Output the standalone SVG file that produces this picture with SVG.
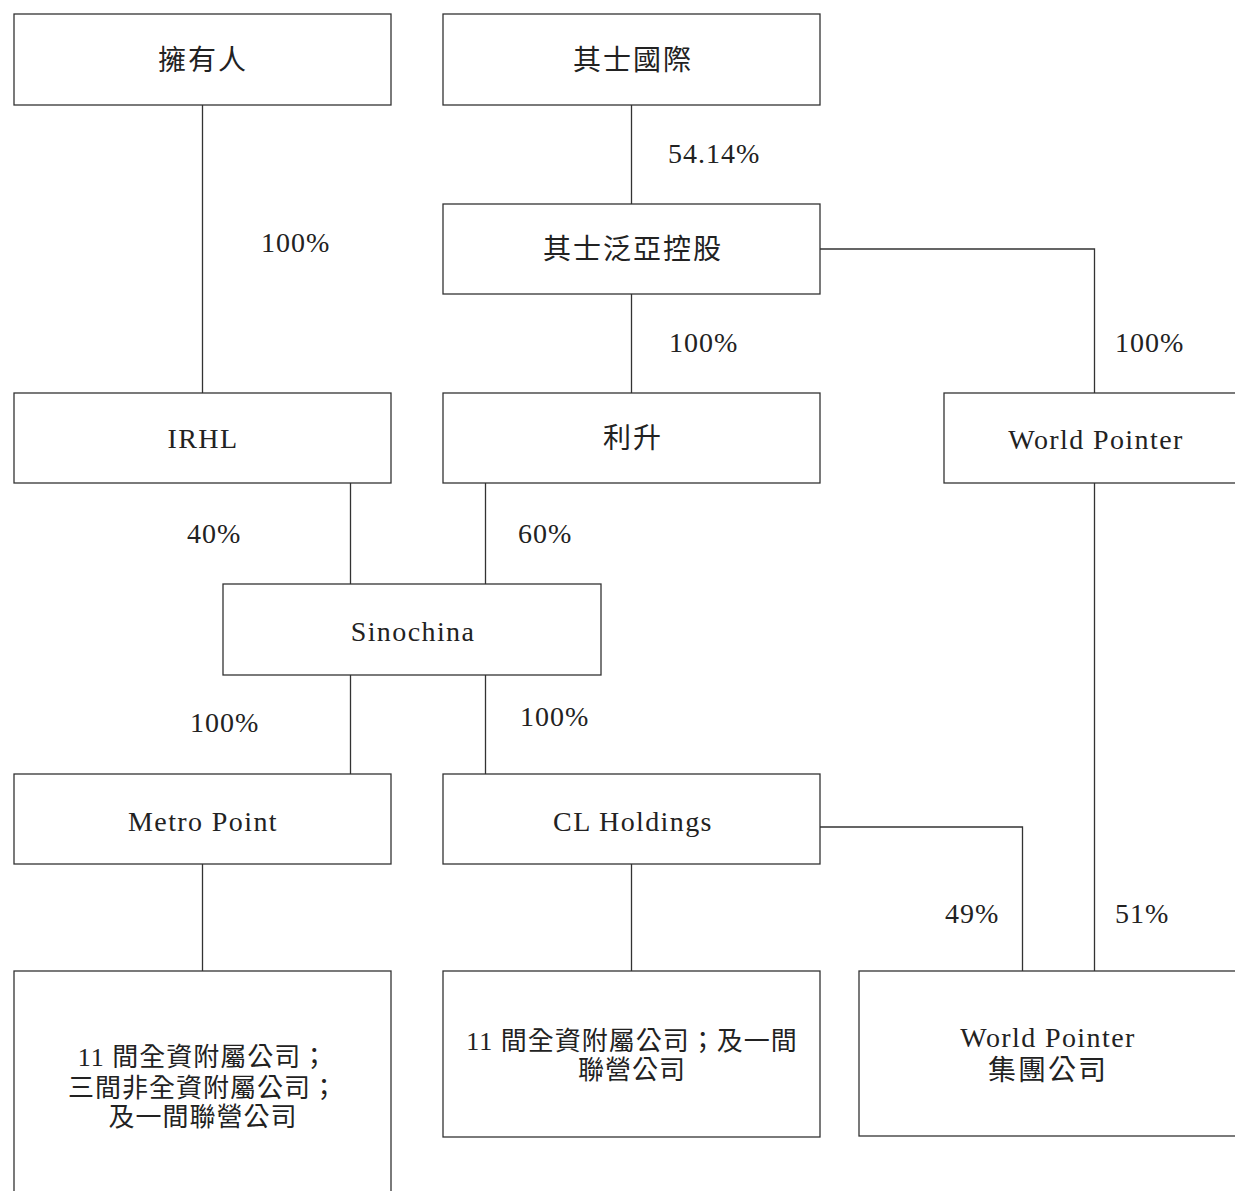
<svg xmlns="http://www.w3.org/2000/svg" width="1235" height="1191" viewBox="0 0 1235 1191">
<style>
.box{fill:#fff;stroke:#333;stroke-width:1.3}
.ln{fill:none;stroke:#333;stroke-width:1.3}
text{font-family:"Liberation Serif","Noto Sans CJK TC",serif;font-size:28px;fill:#222;text-anchor:middle}
.lat{letter-spacing:1.4px}
.cjk{letter-spacing:2px}
.body{font-size:26px;letter-spacing:1px}
.pct{text-anchor:start;letter-spacing:1px}
</style>
<rect width="1235" height="1191" fill="#fff"/>
<g id="connectors">
<path class="ln" d="M202.5 105V393"/>
<path class="ln" d="M631.5 105V204"/>
<path class="ln" d="M631.5 294V393"/>
<path class="ln" d="M820 249H1094.5V393"/>
<path class="ln" d="M350.5 483V584"/>
<path class="ln" d="M485.5 483V584"/>
<path class="ln" d="M350.5 675V774"/>
<path class="ln" d="M485.5 675V774"/>
<path class="ln" d="M202.5 864V971"/>
<path class="ln" d="M631.5 864V971"/>
<path class="ln" d="M820 827H1022.5V971"/>
<path class="ln" d="M1094.5 483V971"/>
<text class="pct" x="261" y="252">100%</text>
<text class="pct" x="668" y="163">54.14%</text>
<text class="pct" x="669" y="352">100%</text>
<text class="pct" x="1115" y="352">100%</text>
<text class="pct" x="187" y="543">40%</text>
<text class="pct" x="518" y="543">60%</text>
<text class="pct" x="190" y="732">100%</text>
<text class="pct" x="520" y="726">100%</text>
<text class="pct" x="945" y="923">49%</text>
<text class="pct" x="1115" y="923">51%</text>
</g>
<g id="n_owner"><rect class="box" x="14" y="14" width="377" height="91"/><text class="cjk" x="203" y="70">擁有人</text></g>
<g id="n_chevalier_intl"><rect class="box" x="443" y="14" width="377" height="91"/><text class="cjk" x="633" y="70">其士國際</text></g>
<g id="n_chevalier_pacific"><rect class="box" x="443" y="204" width="377" height="90"/><text class="cjk" x="633" y="259">其士泛亞控股</text></g>
<g id="n_irhl"><rect class="box" x="14" y="393" width="377" height="90"/><text class="lat" x="203" y="448">IRHL</text></g>
<g id="n_lisheng"><rect class="box" x="443" y="393" width="377" height="90"/><text class="cjk" x="633" y="448">利升</text></g>
<g id="n_world_pointer"><rect class="box" x="944" y="393" width="300" height="90"/><text class="lat" x="1096" y="449">World Pointer</text></g>
<g id="n_sinochina"><rect class="box" x="223" y="584" width="378" height="91"/><text class="lat" x="413" y="641">Sinochina</text></g>
<g id="n_metro_point"><rect class="box" x="14" y="774" width="377" height="90"/><text class="lat" x="203" y="831">Metro Point</text></g>
<g id="n_cl_holdings"><rect class="box" x="443" y="774" width="377" height="90"/><text class="lat" x="633" y="831">CL Holdings</text></g>
<g id="n_metro_subs"><rect class="box" x="14" y="971" width="377" height="230"/>
<text class="body" x="203" y="1066">11 間全資附屬公司；</text>
<text class="body" x="203" y="1097">三間非全資附屬公司；</text>
<text class="body" x="203" y="1126">及一間聯營公司</text></g>
<g id="n_cl_subs"><rect class="box" x="443" y="971" width="377" height="166"/>
<text class="body" x="632" y="1050">11 間全資附屬公司；及一間</text>
<text class="body" x="632" y="1079">聯營公司</text></g>
<g id="n_wp_group"><rect class="box" x="859" y="971" width="385" height="165"/>
<text class="lat" x="1048" y="1047">World Pointer</text>
<text class="cjk" x="1048" y="1080">集團公司</text></g>
</svg>
